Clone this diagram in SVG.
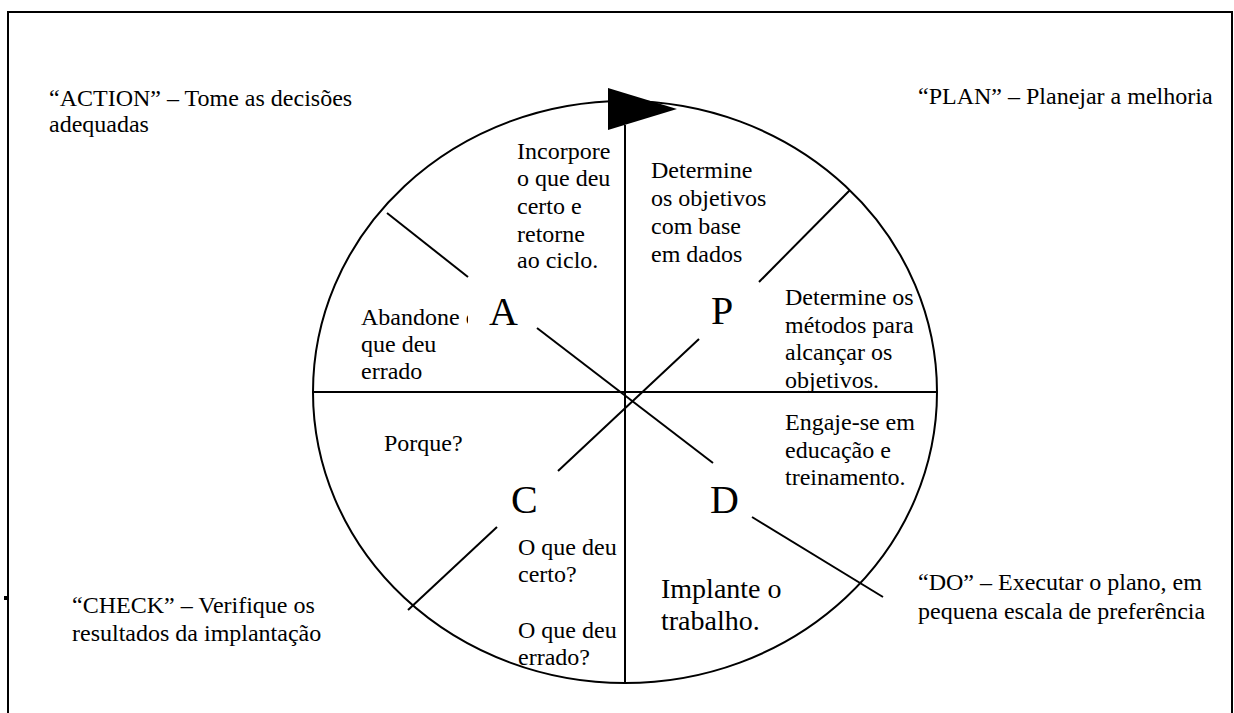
<svg xmlns="http://www.w3.org/2000/svg" width="1234" height="713" viewBox="0 0 1234 713">
<style>
.t{font-family:"Liberation Serif","Times New Roman",serif;font-size:24px;fill:#000}
.big{font-family:"Liberation Serif","Times New Roman",serif;font-size:40px;fill:#000}
.ln{stroke:#000;stroke-width:2;fill:none}
</style>
<rect width="1234" height="713" fill="#fff"/>
<g id="frame">
<path class="ln" d="M8,713 V12 H1232 V713"/>
<line x1="4" y1="598" x2="8" y2="598" stroke="#000" stroke-width="4"/>
</g>
<g id="cycle">
<ellipse class="ln" cx="625" cy="392" rx="312" ry="291"/>
<line class="ln" x1="313" y1="392" x2="937" y2="392"/>
<line class="ln" x1="625" y1="125" x2="625" y2="683"/>
<polygon points="608,88 677,109 608,130" fill="#000"/>
</g>
<g id="connectors">
<line class="ln" x1="387" y1="213" x2="468" y2="277"/>
<line class="ln" x1="537" y1="328" x2="713" y2="463"/>
<line class="ln" x1="752" y1="517" x2="883" y2="597"/>
<line class="ln" x1="850" y1="190" x2="759" y2="282"/>
<line class="ln" x1="699" y1="339" x2="558" y2="471"/>
<line class="ln" x1="497" y1="527" x2="408" y2="610"/>
</g>
<g id="action">
<text class="t" x="49" y="106">“ACTION” – Tome as decisões</text>
<text class="t" x="49" y="132">adequadas</text>
</g>
<g id="plan">
<text class="t" x="918" y="104">“PLAN” – Planejar a melhoria</text>
</g>
<g id="do">
<text class="t" x="918" y="590">“DO” – Executar o plano, em</text>
<text class="t" x="918" y="619">pequena escala de preferência</text>
</g>
<g id="check">
<text class="t" x="72" y="613">“CHECK” – Verifique os</text>
<text class="t" x="72" y="641">resultados da implantação</text>
</g>
<g id="sector-a">
<text class="t" x="517" y="159">Incorpore</text>
<text class="t" x="517" y="186">o que deu</text>
<text class="t" x="517" y="214">certo e</text>
<text class="t" x="517" y="242">retorne</text>
<text class="t" x="517" y="268">ao ciclo.</text>
<text class="t" x="361" y="325">Abandone o</text>
<text class="t" x="361" y="352">que deu</text>
<text class="t" x="361" y="379">errado</text>
<rect x="468" y="280" width="66" height="48" fill="#fff"/>
<text class="big" x="489" y="325">A</text>
</g>
<g id="sector-p">
<text class="t" x="651" y="178">Determine</text>
<text class="t" x="651" y="206">os objetivos</text>
<text class="t" x="651" y="234">com base</text>
<text class="t" x="651" y="262">em dados</text>
<text class="t" x="785" y="305">Determine os</text>
<text class="t" x="785" y="333">métodos para</text>
<text class="t" x="785" y="360">alcançar os</text>
<text class="t" x="785" y="388">objetivos.</text>
<text class="big" x="711" y="324">P</text>
</g>
<g id="sector-d">
<text class="t" x="785" y="430">Engaje-se em</text>
<text class="t" x="785" y="458">educação e</text>
<text class="t" x="785" y="485">treinamento.</text>
<text class="t" x="661" y="598" style="font-size:28px">Implante o</text>
<text class="t" x="661" y="630" style="font-size:28px">trabalho.</text>
<text class="big" x="710" y="513">D</text>
</g>
<g id="sector-c">
<text class="t" x="384" y="451">Porque?</text>
<text class="t" x="518" y="555">O que deu</text>
<text class="t" x="518" y="582">certo?</text>
<text class="t" x="518" y="638">O que deu</text>
<text class="t" x="518" y="665">errado?</text>
<text class="big" x="511" y="513">C</text>
</g>
</svg>
